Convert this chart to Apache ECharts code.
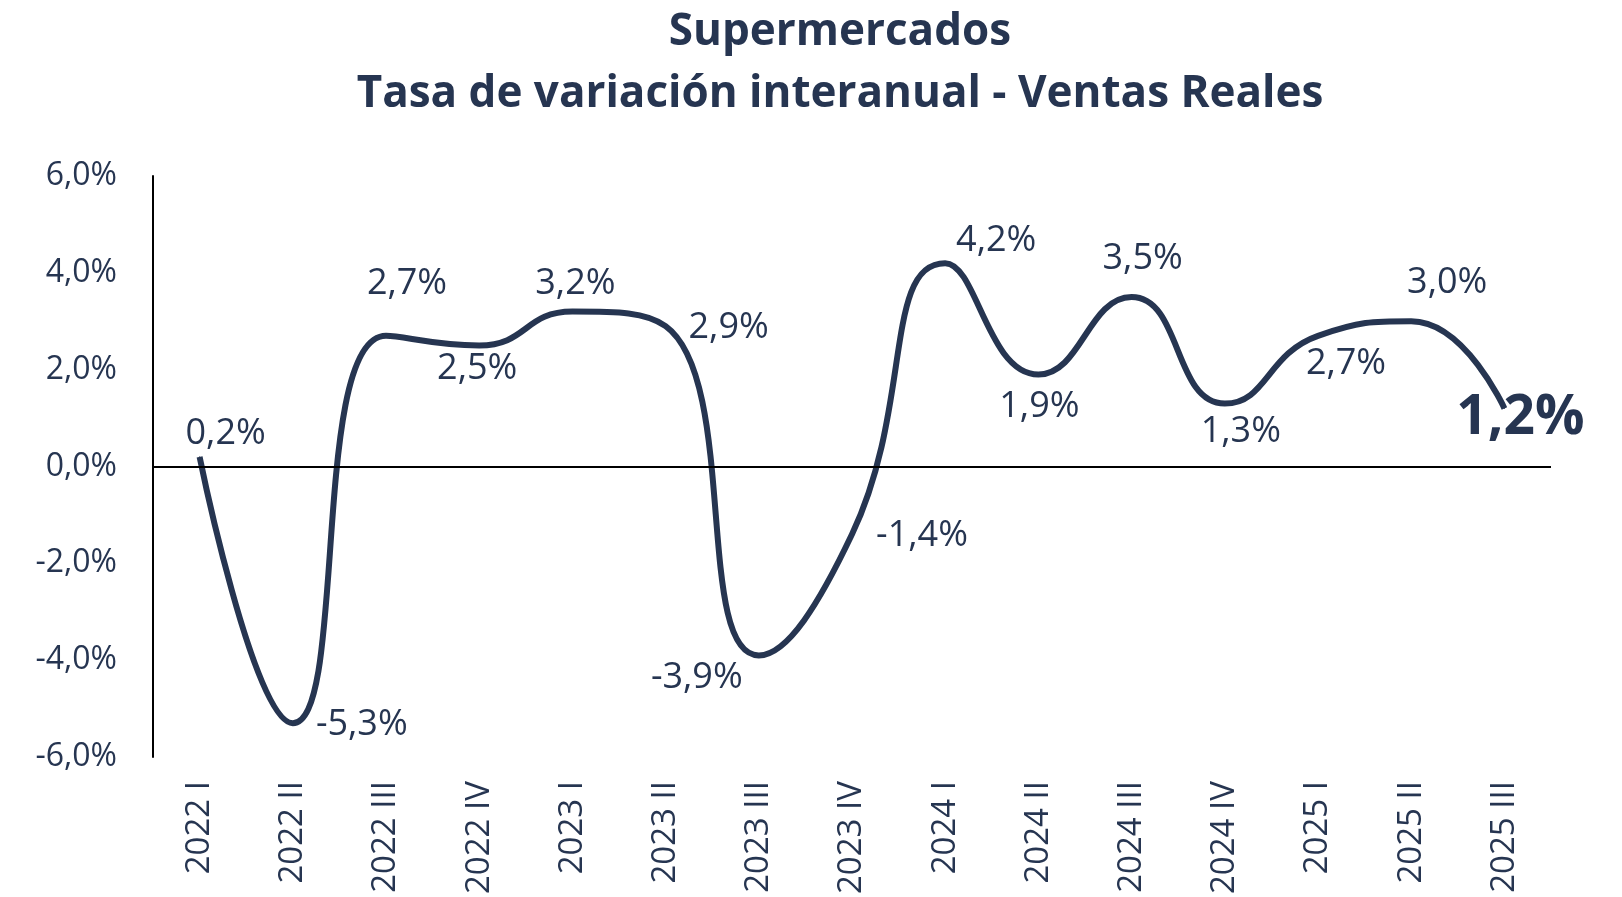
<!DOCTYPE html>
<html>
<head>
<meta charset="utf-8">
<script src="https://cdn.jsdelivr.net/npm/echarts@6/dist/echarts.min.js"></script>
<style>
  html, body { margin: 0; padding: 0; background: #fff; }
  #main { width: 1622px; height: 897px; }
</style>
</head>
<body>
<div id="main"></div>
<script>
// 图表实例
var myChart = echarts.init(document.getElementById('main'));

// 数据
var categories = ['2022 I', '2022 II', '2022 III', '2022 IV', '2023 I', '2023 II', '2023 III', '2023 IV',
  '2024 I', '2024 II', '2024 III', '2024 IV', '2025 I', '2025 II', '2025 III'];
var values = [0.2, -5.3, 2.7, 2.5, 3.2, 2.9, -3.9, -1.4, 4.2, 1.9, 3.5, 1.3, 2.7, 3.0, 1.2];
var yTicks = [-6, -4, -2, 0, 2, 4, 6];

// label offsets (px) for each point
var labelOffsets = [
  [26, -23], [69, 2], [21, -52], [-2, 23], [3, -28], [63, 2], [-62, 22], [70, 1],
  [51, -22], [1, 32], [11, -38], [16, 28], [28, 28], [36, -39], [16, 10]
];

var navy = '#263551';
var fmt = function (v) {
  return v.toFixed(1).replace('.', ',') + '%';
};

var seriesData = values.map(function (v, i) {
  var last = i === values.length - 1;
  return {
    value: v,
    label: {
      offset: labelOffsets[i],
      fontSize: last ? 55 : 36,
      fontWeight: last ? 'bold' : 'normal'
    }
  };
});

var option = {
  animation: false,
  title: {
    text: 'Supermercados\nTasa de variación interanual - Ventas Reales',
    left: 835,
    textAlign: 'center',
    top: -4,
    textStyle: {
      fontFamily: 'Open Sans',
      fontWeight: 'bold',
      fontSize: 44,
      lineHeight: 62,
      color: navy
    }
  },
  grid: {
    left: 153,
    right: 71,
    top: 176,
    bottom: 139
  },
  xAxis: {
    type: 'category',
    data: categories,
    boundaryGap: true,
    axisLine: { show: false, onZero: false },
    axisTick: { show: false },
    axisLabel: {
      rotate: 90,
      margin: 24,
      fontFamily: 'Open Sans',
      fontSize: 33,
      color: navy
    }
  },
  yAxis: {
    type: 'value',
    min: yTicks[0],
    max: yTicks[yTicks.length - 1],
    interval: 2,
    axisLine: { show: true, lineStyle: { color: '#000', width: 2 } },
    axisTick: { show: false },
    splitLine: { show: false },
    axisLabel: {
      margin: 36,
      fontFamily: 'Open Sans',
      fontSize: 32,
      color: navy,
      formatter: fmt
    }
  },
  series: [{
    type: 'line',
    data: seriesData,
    smooth: 0.5,
    symbol: 'circle',
    symbolSize: 1,
    itemStyle: { color: navy },
    lineStyle: { color: navy, width: 6 },
    label: {
      show: true,
      position: 'inside',
      align: 'center',
      verticalAlign: 'middle',
      fontFamily: 'Open Sans',
      color: navy,
      formatter: function (p) { return fmt(p.value); }
    },
    markLine: {
      silent: true,
      symbol: ['none', 'none'],
      label: { show: false },
      lineStyle: { color: '#000', width: 2, type: 'solid' },
      data: [{ yAxis: 0 }]
    }
  }]
};

myChart.setOption(option);

window.onresize = function () {
  myChart.resize();
};
</script>
</body>
</html>
